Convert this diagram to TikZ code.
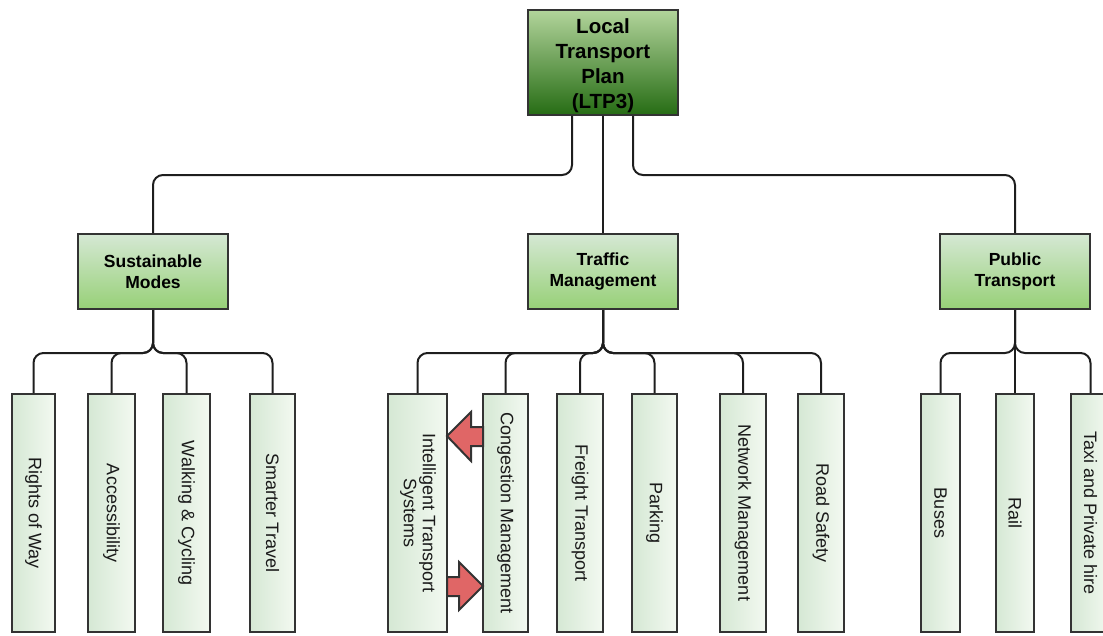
\documentclass[tikz,border=0pt]{standalone}
\usepackage{fontspec}
\setmainfont{Liberation Sans}
\usetikzlibrary{calc}
\definecolor{edgec}{HTML}{333333}
\definecolor{linec}{HTML}{1E1E1E}
\definecolor{textc}{HTML}{1A1A1A}
\definecolor{roottop}{RGB}{178,212,155}
\definecolor{rootbot}{RGB}{38,108,20}
\definecolor{midtop}{HTML}{D5E8D4}
\definecolor{midbot}{HTML}{97D077}
\definecolor{leafl}{HTML}{D5E8D4}
\definecolor{leafr}{HTML}{F3F9F1}
\definecolor{redfill}{HTML}{E06666}
\tikzset{
  rootbox/.style={draw=edgec, line width=2pt, top color=roottop, bottom color=rootbot,
    minimum width=150pt, minimum height=105pt, inner sep=0pt, align=center,
    font=\fontsize{20.5}{25}\selectfont\bfseries},
  midbox/.style={draw=edgec, line width=2pt, top color=midtop, bottom color=midbot,
    minimum width=150pt, minimum height=75pt, inner sep=0pt, align=center,
    font=\fontsize{17.5}{21}\selectfont\bfseries},
  leaf/.style={draw=edgec, line width=2pt, left color=leafl, right color=leafr,
    minimum height=238pt, inner sep=0pt, text=textc,
    font=\fontsize{18}{21}\selectfont},
  conn/.style={draw=linec, line width=2pt, rounded corners=10pt},
  redarrow/.style={draw=edgec, line width=2pt, fill=redfill, line join=miter},
}
\newcommand{\rt}[1]{\rotatebox{-90}{#1}}
\begin{document}
\begin{tikzpicture}[x=1pt,y=1pt]
\useasboundingbox (0,0) rectangle (1103,-635);
% root
\node[rootbox] (root) at (603,-62.5) {};
\node[font=\fontsize{20.5}{25}\selectfont\bfseries, align=center, inner sep=0pt] (roottxt) at ([yshift=-3pt]root.center) {Local\\Transport\\Plan\\(LTP3)};
% level 2
\node[midbox] (sm) at (153,-271.5) {Sustainable\\Modes};
\node[midbox] (tm) at (603,-271.5) {Traffic\\Management};
\node[midbox] (pt) at (1015,-271.5) {Public\\Transport};
% leaves
\node[leaf, minimum width=43pt] (rw) at (33.5,-513) {\rt{Rights of Way}};
\node[leaf, minimum width=47pt] (ac) at (111.5,-513) {\rt{Accessibility}};
\node[leaf, minimum width=47pt] (wc) at (186.5,-513) {\rt{Walking \& Cycling}};
\node[leaf, minimum width=45pt] (st) at (272.5,-513) {\rt{Smarter Travel}};
\node[leaf, minimum width=59pt] (its) at (417.5,-513) {\rt{\begin{tabular}{@{}c@{}}Intelligent Transport\\[-2pt]Systems\end{tabular}}};
\node[leaf, minimum width=45pt] (cm) at (505.5,-513) {\rt{Congestion Management}};
\node[leaf, minimum width=46pt] (ft) at (580,-513) {\rt{Freight Transport}};
\node[leaf, minimum width=45pt] (pk) at (654.5,-513) {\rt{Parking}};
\node[leaf, minimum width=46pt] (nm) at (743,-513) {\rt{Network Management}};
\node[leaf, minimum width=46pt] (rs) at (821,-513) {\rt{Road Safety}};
\node[leaf, minimum width=39pt] (bu) at (940.5,-513) {\rt{Buses}};
\node[leaf, minimum width=38pt] (ra) at (1015,-513) {\rt{Rail}};
\node[leaf, minimum width=39pt] (tx) at (1090.5,-513) {\rt{Taxi and Private hire}};
% root connectors
\draw[conn] ([xshift=-31pt]root.south) -- ++(0,-59) -| (sm.north);
\draw[conn] (root.south) -- (tm.north);
\draw[conn] ([xshift=30pt]root.south) -- ++(0,-59) -| (pt.north);
% level 2 connectors
\foreach \c in {rw,ac,wc,st}{\draw[conn] (sm.south) -- ++(0,-43) -| (\c.north);}
\foreach \c in {its,cm,ft,pk,nm,rs}{\draw[conn] (tm.south) -- ++(0,-43) -| (\c.north);}
\foreach \c in {bu,ra,tx}{\draw[conn] (pt.south) -- ++(0,-43) -| (\c.north);}
% red block arrows
\draw[redarrow] (447,-436) -- (471,-412) -- (471,-427) -- (483,-427) -- (483,-446) -- (471,-446) -- (471,-461) -- cycle;
\draw[redarrow] (483,-586) -- (459,-562) -- (459,-577) -- (447,-577) -- (447,-596) -- (459,-596) -- (459,-610) -- cycle;
\end{tikzpicture}
\end{document}
